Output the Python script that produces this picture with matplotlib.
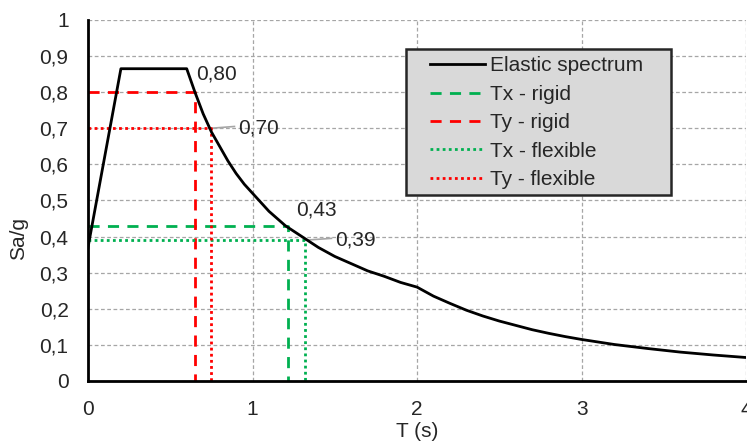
import matplotlib
matplotlib.use('Agg')
from matplotlib import pyplot as plt
from matplotlib.patches import Rectangle
from matplotlib.ticker import FuncFormatter, MultipleLocator

plt.rcParams['font.family'] = ['Liberation Sans', 'DejaVu Sans']

# elastic spectrum
T_spec = [0, 0.2, 0.6, 0.65, 0.7, 0.75, 0.8, 0.85, 0.9, 0.95, 1.0, 1.1, 1.2, 1.3, 1.4, 1.5,
          1.6, 1.7, 1.8, 1.9, 2.0, 2.1, 2.2, 2.3, 2.4, 2.5, 2.6, 2.7, 2.8, 2.9, 3.0, 3.2,
          3.4, 3.6, 3.8, 4.0]
Sa_spec = [0.37, 0.865, 0.865, 0.80, 0.74, 0.69, 0.65, 0.61, 0.575, 0.545, 0.52, 0.47,
           0.43, 0.40, 0.37, 0.345, 0.325, 0.305, 0.29, 0.273, 0.26, 0.235, 0.215, 0.196,
           0.18, 0.166, 0.154, 0.142, 0.132, 0.123, 0.115, 0.101, 0.09, 0.08, 0.072, 0.065]

# periods and spectral values of the structure
names = ['Tx - rigid', 'Ty - rigid', 'Tx - flexible', 'Ty - flexible']
periods = [1.215, 0.65, 1.32, 0.745]
sa_vals = [0.43, 0.80, 0.39, 0.70]
labels = ['0,43', '0,80', '0,39', '0,70']

green = '#00B050'
red = '#FF0000'
styles = [(green, (0, (4, 3))), (red, (0, (4, 3))), (green, (0, (1, 1.2))), (red, (0, (1, 1.2)))]

fig = plt.figure(figsize=(7.47, 4.47), dpi=100)
ax = fig.add_axes([0.1178, 0.1477, 0.881, 0.8076])

ax.plot(T_spec, Sa_spec, color='black', lw=2, label='Elastic spectrum', zorder=5)
for name, t, s, (c, ls) in zip(names, periods, sa_vals, styles):
    ax.plot([0, t, t], [s, s, 0], color=c, lw=2, linestyle=ls, label=name, zorder=4)

# value labels
txt_col = '#262626'
fs = 15
ax.text(0.655, 0.85, labels[1], fontsize=fs, color=txt_col, va='center')
ax.text(0.91, 0.70, labels[3], fontsize=fs, color=txt_col, va='center')
ax.plot([0.745, 0.89], [0.70, 0.705], color='#a6a6a6', lw=1.2)
ax.text(1.265, 0.475, labels[0], fontsize=fs, color=txt_col, va='center')
ax.text(1.50, 0.39, labels[2], fontsize=fs, color=txt_col, va='center')
ax.plot([1.32, 1.48], [0.39, 0.395], color='#a6a6a6', lw=1.2)

ax.set_xlim(0, 4)
ax.set_ylim(0, 1)
ax.xaxis.set_major_locator(MultipleLocator(1))
ax.yaxis.set_major_locator(MultipleLocator(0.1))
ax.yaxis.set_major_formatter(FuncFormatter(lambda v, p: ('%.1f' % v).replace('.', ',') if v not in (0, 1) else '%d' % round(v)))
ax.xaxis.set_major_formatter(FuncFormatter(lambda v, p: '%d' % round(v)))
ax.tick_params(length=0, labelsize=fs, labelcolor=txt_col)
ax.tick_params(axis='y', pad=14)
ax.tick_params(axis='x', pad=14)
ax.grid(True, color='#a6a6a6', linestyle=(0, (3, 2)), lw=0.9)
ax.set_axisbelow(True)
for sp in ['top', 'right']:
    ax.spines[sp].set_visible(False)
for sp in ['left', 'bottom']:
    ax.spines[sp].set_linewidth(2)
    ax.spines[sp].set_zorder(6)

ax.set_xlabel('T (s)', fontsize=fs, color=txt_col, labelpad=2)
ax.set_ylabel('Sa/g', fontsize=fs, color=txt_col)
ax.yaxis.set_label_coords(-0.091, 0.396)

# legend box: wider side padding than matplotlib allows, so draw it separately
box = Rectangle((0.4833, 0.515), 0.4027, 0.4047, transform=ax.transAxes,
                facecolor='#D9D9D9', edgecolor='#262626', lw=1.8, zorder=6)
ax.add_patch(box)
leg = ax.legend(loc='upper left', bbox_to_anchor=(0.52, 0.899), fontsize=fs, frameon=False,
                handlelength=2.64, handletextpad=0.24, labelspacing=0.45,
                borderpad=0, borderaxespad=0)
leg.set_zorder(7)
for t in leg.get_texts():
    t.set_color(txt_col)

fig.savefig('out.png', dpi=100)
